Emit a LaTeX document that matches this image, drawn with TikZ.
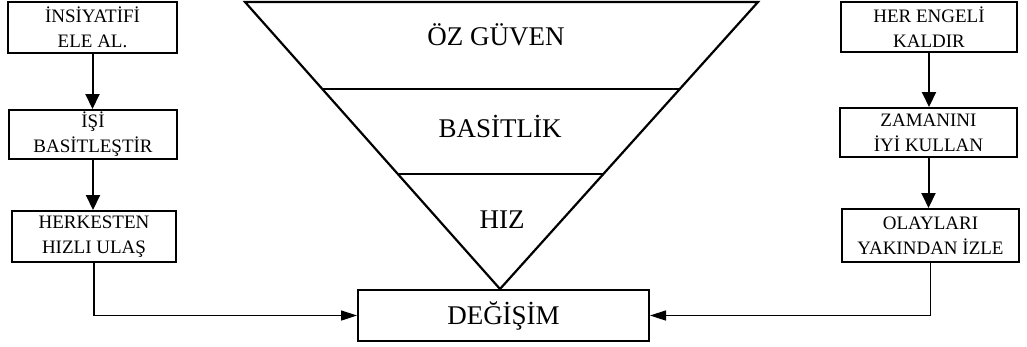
\documentclass[tikz,border=0pt]{standalone}
\usepackage{fontspec}
\setmainfont{Liberation Serif}
\usetikzlibrary{arrows.meta,calc}
\tikzset{
  box/.style={draw=black,line width=2pt,inner sep=0pt,align=center,
    font=\fontsize{19}{25}\selectfont},
  big/.style={font=\fontsize{27}{30}\selectfont,anchor=base,inner sep=0pt},
  varr/.style={line width=2pt,-{Triangle[length=15pt,width=14pt]}},
  harr/.style={line width=1.6pt,-{Triangle[length=16pt,width=10pt]}},
  tri/.style={line width=2.2pt,line join=miter}
}
\begin{document}
\begin{tikzpicture}[x=1pt,y=-1pt]
\useasboundingbox (0,0) rectangle (1027,346);
% left column
\node[box,minimum width=169pt,minimum height=51pt] (l1) at (92.5,27.5) {İNSİYATİFİ\\ELE AL.};
\node[box,minimum width=168pt,minimum height=49pt] (l2) at (93,134.5) {İŞİ\\BASİTLEŞTİR};
\node[box,minimum width=164pt,minimum height=51pt] (l3) at (94,236.5) {HERKESTEN\\HIZLI ULAŞ};
% right column
\node[box,minimum width=176pt,minimum height=50pt] (r1) at (929,27) {HER ENGELİ\\KALDIR};
\node[box,minimum width=177pt,minimum height=49pt] (r2) at (928.5,132.5) {ZAMANINI\\İYİ KULLAN};
\node[box,minimum width=177pt,minimum height=53pt] (r3) at (930.5,235.5) {OLAYLARI\\YAKINDAN İZLE};
% bottom
\node[box,minimum width=291pt,minimum height=51pt,font=\fontsize{27}{30}\selectfont] (dg) at (503.5,315.5) {DEĞİŞİM};
% triangle
\coordinate (A) at (245,2);
\coordinate (B) at (758,2);
\coordinate (C) at (500,289);
\draw[tri] (A) -- (B) -- (C) -- cycle;
\coordinate (p1) at ($(A)!0.304!(C)$);
\coordinate (q1) at ($(B)!0.304!(C)$);
\coordinate (p2) at ($(A)!0.601!(C)$);
\coordinate (q2) at ($(B)!0.601!(C)$);
\draw[line width=2pt] (p1) -- (q1);
\draw[line width=2pt] (p2) -- (q2);
\node[big] (t1) at (496,45) {ÖZ GÜVEN};
\node[big] (t2) at (500,137) {BASİTLİK};
\node[big] (t3) at (502,228) {HIZ};
% arrows
\draw[varr] (l1.south) -- (l1.south |- l2.north);
\draw[varr] (l2.south) -- (l2.south |- l3.north);
\draw[varr] (r1.south) -- (r1.south |- r2.north);
\draw[varr] (r2.south) -- (r2.south |- r3.north);
\draw[harr] (l3.south) |- (dg.west);
\draw[harr] (r3.south) |- (dg.east);
\end{tikzpicture}
\end{document}
